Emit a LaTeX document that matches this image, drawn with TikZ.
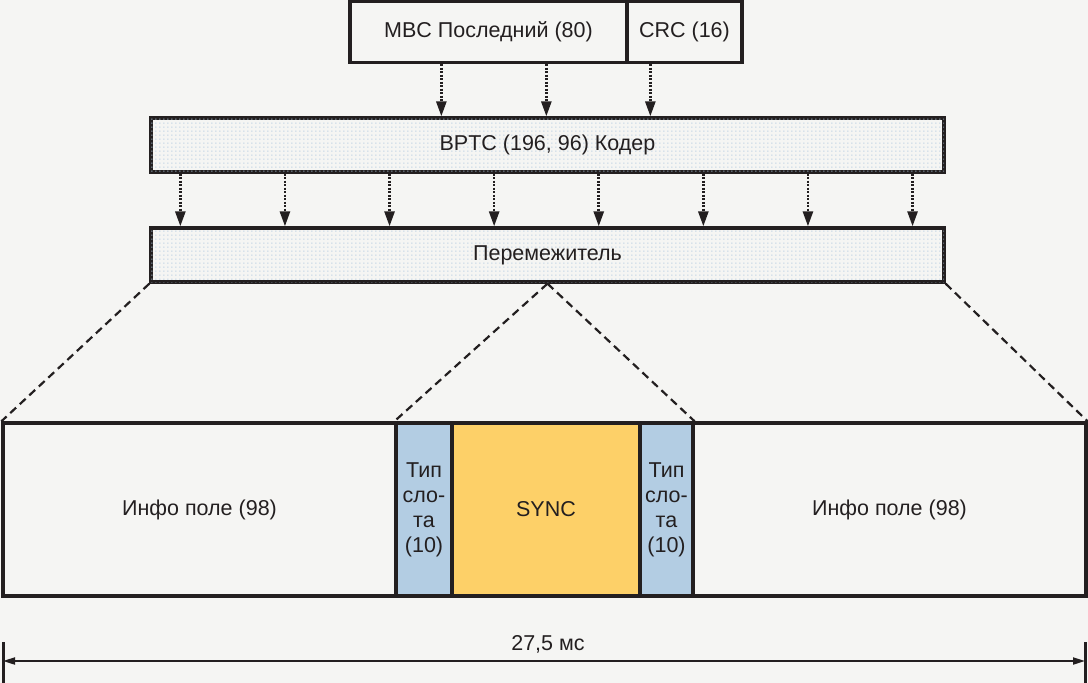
\documentclass[tikz,border=0pt]{standalone}
\usepackage{fontspec}
\setmainfont{Liberation Sans}
\usetikzlibrary{arrows.meta,patterns.meta,calc}
\definecolor{bg}{HTML}{F5F5F3}
\definecolor{ink}{HTML}{231F20}
\definecolor{slotblue}{HTML}{B3CDE3}
\definecolor{syncor}{HTML}{FDD068}
\definecolor{dotblue}{HTML}{AFC8DE}
\tikzdeclarepattern{
  name=smalldots, type=uncolored,
  bounding box={(0pt,0pt) and (3.6pt,3.6pt)},
  tile size={(3.6pt,3.6pt)},
  code={\fill (0.3pt,0.3pt) rectangle (1.5pt,1.5pt);}
}
\begin{document}
\begin{tikzpicture}[x=1pt,y=-1pt,
  txt/.style={font=\fontsize{21.5}{25}\selectfont, text=ink},
  box/.style={draw=ink, line width=3.3pt, inner sep=0pt, txt, fill=bg},
  dotbox/.style={box, postaction={pattern={smalldots}, pattern color=dotblue}},
  arr/.style={draw=ink, line width=2.6pt, dash pattern=on 2pt off 1.5pt, -{Triangle[length=15pt,width=10pt]}},
  dashln/.style={draw=ink, line width=2.2pt, dash pattern=on 8pt off 5pt},
  dim/.style={draw=ink, line width=2pt, {Triangle[length=12pt,width=7pt]}-{Triangle[length=12pt,width=7pt]}},
  tickln/.style={draw=ink, line width=3pt}
]
\fill[bg] (0,0) rectangle (1088,683);
\useasboundingbox (0,0) rectangle (1088,683);

% top boxes
\node[box, minimum width=277pt, minimum height=61pt] (mbc) at (488.5,32) {MBC Последний (80)};
\node[box, minimum width=115pt, minimum height=61pt] (crc) at (684.5,32) {CRC (16)};

% coder and interleaver
\node[dotbox, minimum width=793pt, minimum height=54pt] (coder) at (547.5,145) {BPTC (196, 96) Кодер};
\node[dotbox, minimum width=793pt, minimum height=54pt] (inter) at (547.5,255) {Перемежитель};

% arrows top -> coder
\draw[arr] ([xshift=93pt]mbc.south west) -- ([xshift=93pt]mbc.south west |- coder.north);
\draw[arr] ([xshift=198pt]mbc.south west) -- ([xshift=198pt]mbc.south west |- coder.north);
\draw[arr] ([xshift=25pt]crc.south west) -- ([xshift=25pt]crc.south west |- coder.north);

% arrows coder -> interleaver
\foreach \i in {0,...,7}{
  \draw[arr] ([xshift={31pt+104.6pt*\i}]coder.south west) -- ([xshift={31pt+104.6pt*\i}]coder.south west |- inter.north);
}

% burst
\node[box, minimum width=393pt, minimum height=173pt] (info1) at (199.5,509.5) {Инфо поле (98)};
\node[box, fill=slotblue, minimum width=56pt, minimum height=173pt, align=center] (slot1) at (424,509.5) {Тип\\сло-\\та\\(10)};
\node[box, fill=syncor, minimum width=188pt, minimum height=173pt] (sync) at (546,509.5) {SYNC};
\node[box, fill=slotblue, minimum width=53pt, minimum height=173pt, align=center] (slot2) at (666.5,509.5) {Тип\\сло-\\та\\(10)};
\node[box, minimum width=393pt, minimum height=173pt] (info2) at (889.5,509.5) {Инфо поле (98)};

% dashed expansion lines
\draw[dashln] (inter.south west) -- (info1.north west);
\draw[dashln] (inter.south) -- (slot1.north west);
\draw[dashln] (inter.south) -- (slot2.north east);
\draw[dashln] (inter.south east) -- (info2.north east);

% dimension
\coordinate (dl) at (3,661);
\coordinate (dr) at (1085,661);
\coordinate (dlt) at (3,642);
\coordinate (dlb) at (3,683);
\coordinate (drt) at (1085,642);
\coordinate (drb) at (1085,683);
\draw[tickln] (dlt) -- (dlb);
\draw[tickln] (drt) -- (drb);
\draw[dim] (dl) -- (dr);
\node[txt] (dur) at (548,644) {27,5 мс};
\end{tikzpicture}
\end{document}
